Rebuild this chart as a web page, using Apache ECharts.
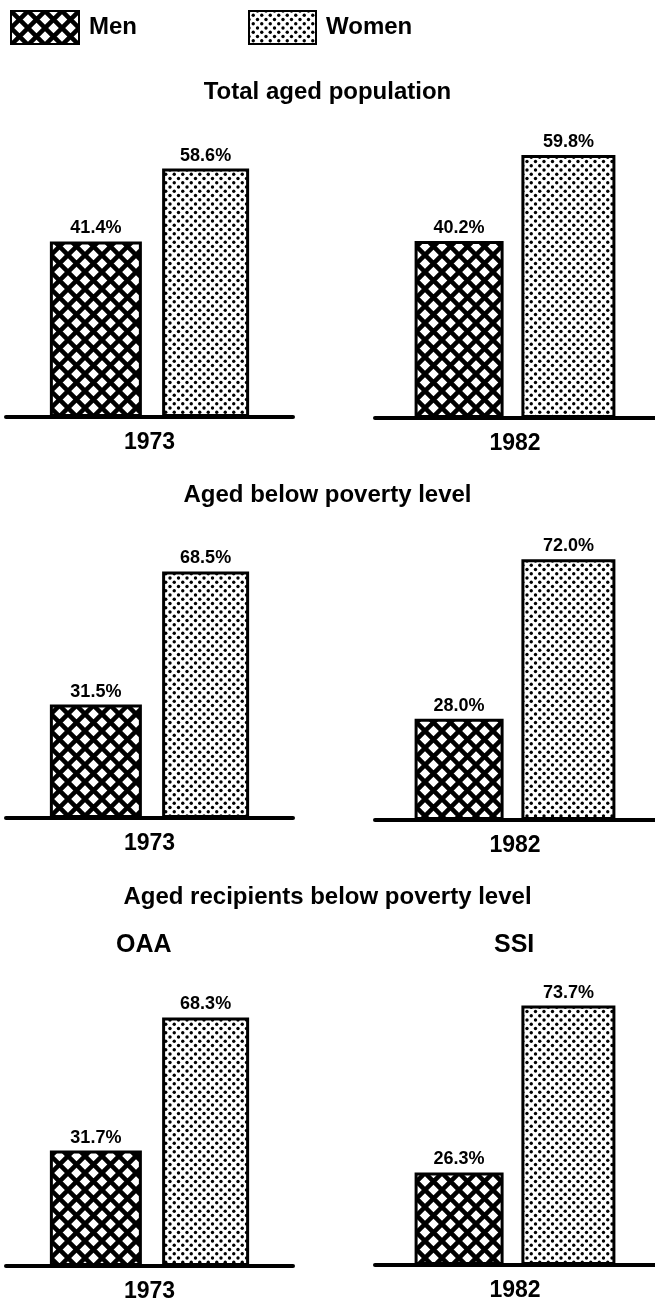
<!DOCTYPE html>
<html>
<head>
<meta charset="utf-8">
<script src="https://cdn.jsdelivr.net/npm/echarts@6/dist/echarts.min.js"></script>
<style>
  html, body { margin: 0; padding: 0; background: #fff; }
  #chart { width: 655px; height: 1307px; }
</style>
</head>
<body>
<div id="chart"></div>
<script>
  // chart data
  var panelTitles = ['Total aged population', 'Aged below poverty level', 'Aged recipients below poverty level']
  var subTitles = ['OAA', 'SSI']
  var years = ['1973', '1982']
  var men = [41.4, 40.2, 31.5, 28.0, 31.7, 26.3]
  var women = [58.6, 59.8, 68.5, 72.0, 68.3, 73.7]

  // layout of the six small charts: grid sides, baseline y, px per percent, bar widths
  var yMax = 80
  var panels = [
    { left: 6, right: 362, base: 417, scale: 4.24, mw: 92, ww: 87, gap: '22%' },
    { left: 375, right: -13, base: 418, scale: 4.4, mw: 89, ww: 94, gap: '20%' },
    { left: 6, right: 362, base: 818, scale: 3.6, mw: 92, ww: 87, gap: '22%' },
    { left: 375, right: -13, base: 820, scale: 3.62, mw: 89, ww: 94, gap: '20%' },
    { left: 6, right: 362, base: 1266, scale: 3.64, mw: 92, ww: 87, gap: '22%' },
    { left: 375, right: -13, base: 1265, scale: 3.52, mw: 89, ww: 94, gap: '20%' }
  ]

  var font = 'Liberation Sans, Arial, sans-serif'

  // fill patterns
  function crossHatch() {
    var p = 17
    var c = document.createElement('canvas')
    c.width = p
    c.height = p
    var ctx = c.getContext('2d')
    ctx.fillStyle = '#fff'
    ctx.fillRect(0, 0, p, p)
    ctx.strokeStyle = '#000'
    ctx.lineWidth = 4.5
    ;[-p, 0, p].forEach(function (dx) {
      ctx.beginPath()
      ctx.moveTo(dx - 2, -2)
      ctx.lineTo(dx + p + 2, p + 2)
      ctx.moveTo(dx + p + 2, -2)
      ctx.lineTo(dx - 2, p + 2)
      ctx.stroke()
    })
    return c
  }

  function dots() {
    var p = 8.5
    var c = document.createElement('canvas')
    c.width = 17
    c.height = 17
    var ctx = c.getContext('2d')
    ctx.fillStyle = '#fff'
    ctx.fillRect(0, 0, 17, 17)
    ctx.fillStyle = '#000'
    for (var i = 0; i < 3; i++) {
      for (var j = 0; j < 3; j++) {
        ctx.beginPath()
        ctx.arc(i * p, j * p, 1.7, 0, Math.PI * 2)
        ctx.fill()
        ctx.beginPath()
        ctx.arc(i * p + p / 2, j * p + p / 2, 1.7, 0, Math.PI * 2)
        ctx.fill()
      }
    }
    return c
  }

  var menFill = { image: crossHatch(), repeat: 'repeat' }
  var womenFill = { image: dots(), repeat: 'repeat' }

  var grids = []
  var xAxes = []
  var yAxes = []
  var series = []

  var valueLabel = {
    show: true,
    position: 'top',
    distance: 4,
    color: '#000',
    fontFamily: font,
    fontWeight: 'bold',
    fontSize: 18,
    formatter: function (p) { return p.value.toFixed(1) + '%' }
  }

  panels.forEach(function (pn, i) {
    grids.push({
      left: pn.left,
      right: pn.right,
      top: pn.base - yMax * pn.scale,
      bottom: 1307 - pn.base
    })
    xAxes.push({
      type: 'category',
      gridIndex: i,
      data: [years[i % 2]],
      axisLine: { lineStyle: { color: '#000', width: 4 } },
      axisTick: { show: false },
      axisLabel: { color: '#000', fontFamily: font, fontWeight: 'bold', fontSize: 23, margin: 14 }
    })
    yAxes.push({ type: 'value', gridIndex: i, min: 0, max: yMax, show: false })
    series.push({
      name: 'Men',
      type: 'bar',
      xAxisIndex: i,
      yAxisIndex: i,
      barWidth: pn.mw,
      barGap: pn.gap,
      data: [men[i]],
      itemStyle: { color: menFill, borderColor: '#000', borderWidth: 3 },
      label: valueLabel
    })
    series.push({
      name: 'Women',
      type: 'bar',
      xAxisIndex: i,
      yAxisIndex: i,
      barWidth: pn.ww,
      barGap: pn.gap,
      data: [women[i]],
      itemStyle: { color: womenFill, borderColor: '#000', borderWidth: 3 },
      label: valueLabel
    })
  })

  var titleStyle = { color: '#000', fontFamily: font, fontWeight: 'bold', fontSize: 24 }
  var subStyle = { color: '#000', fontFamily: font, fontWeight: 'bold', fontSize: 25 }
  var legendText = { color: '#000', fontFamily: font, fontWeight: 'bold', fontSize: 24, padding: [0, 0, 0, 5] }

  var chart = echarts.init(document.getElementById('chart'))
  chart.setOption({
    animation: false,
    backgroundColor: '#fff',
    title: [
      { text: panelTitles[0], left: 'center', top: 80, padding: 0, textStyle: titleStyle },
      { text: panelTitles[1], left: 'center', top: 483, padding: 0, textStyle: titleStyle },
      { text: panelTitles[2], left: 'center', top: 885, padding: 0, textStyle: titleStyle },
      { text: subTitles[0], left: 116, top: 933, padding: 0, textStyle: subStyle },
      { text: subTitles[1], left: 494, top: 933, padding: 0, textStyle: subStyle }
    ],
    legend: [
      { data: ['Men'], left: 10, top: 10, padding: 0, icon: 'rect', itemWidth: 68, itemHeight: 33, textStyle: legendText },
      { data: ['Women'], left: 248, top: 10, padding: 0, icon: 'rect', itemWidth: 67, itemHeight: 33, textStyle: legendText }
    ],
    grid: grids,
    xAxis: xAxes,
    yAxis: yAxes,
    series: series
  })
</script>
</body>
</html>
